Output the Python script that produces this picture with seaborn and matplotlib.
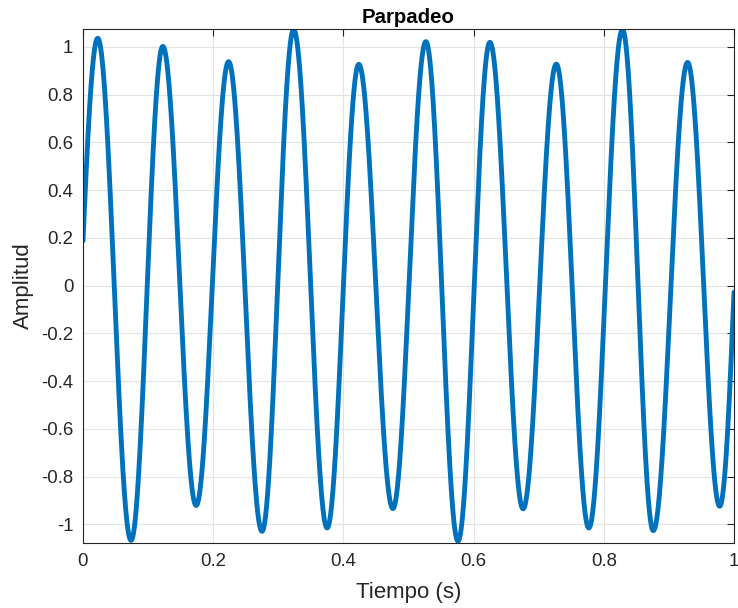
import numpy as np
import pandas as pd
import matplotlib
matplotlib.use("Agg")
import matplotlib.pyplot as plt
import seaborn as sns

# Turning points of the flicker signal (time in s, amplitude)
peak_times = [0.0226, 0.1226, 0.2236, 0.3236, 0.4236, 0.5267, 0.6250, 0.7270, 0.8287, 0.9287, 1.024]
peak_values = [1.036, 1.002, 0.938, 1.072, 0.927, 1.022, 1.019, 0.928, 1.072, 0.935, 1.000]
trough_times = [-0.028, 0.0738, 0.1738, 0.2750, 0.3750, 0.4760, 0.5760, 0.6760, 0.7770, 0.8760, 0.9780]
trough_values = [-1.000, -1.067, -0.921, -1.029, -1.015, -0.934, -1.070, -0.935, -1.015, -1.026, -0.924]

x_ticks = [0, 0.2, 0.4, 0.6, 0.8, 1]
y_ticks = [-1, -0.8, -0.6, -0.4, -0.2, 0, 0.2, 0.4, 0.6, 0.8, 1]

# Alternate troughs and peaks into one ordered list of turning points
knot_t = []
knot_v = []
for tt, tv, pt, pv in zip(trough_times, trough_values, peak_times, peak_values):
    knot_t += [tt, pt]
    knot_v += [tv, pv]
knot_t = np.array(knot_t)
knot_v = np.array(knot_v)

# Half-cosine swing between consecutive turning points
t = np.linspace(0, 1, 4001)
idx = np.clip(np.searchsorted(knot_t, t, side="right") - 1, 0, len(knot_t) - 2)
t0, t1 = knot_t[idx], knot_t[idx + 1]
v0, v1 = knot_v[idx], knot_v[idx + 1]
frac = (t - t0) / (t1 - t0)
amp = v0 + (v1 - v0) * (1 - np.cos(np.pi * frac)) / 2

df = pd.DataFrame({"Tiempo (s)": t, "Amplitud": amp})

sns.set_theme(style="white")
plt.rcParams["font.family"] = ["Liberation Sans", "DejaVu Sans"]

fig = plt.figure(figsize=(7.38, 6.08), dpi=100)
ax = fig.add_axes([83 / 738, 1 - 543 / 608, (734 - 83) / 738, (543 - 29) / 608])

sns.lineplot(data=df, x="Tiempo (s)", y="Amplitud", ax=ax, color="#0072BD",
             linewidth=3.5, estimator=None, sort=False)

ax.set_xlim(0, 1)
ax.set_ylim(-1.078, 1.075)
ax.set_xticks(x_ticks)
ax.set_xticklabels([f"{v:g}" for v in x_ticks])
ax.set_yticks(y_ticks)
ax.set_yticklabels([f"{v:g}" for v in y_ticks])

axis_col = "#262626"
ax.grid(True, color="#e3e3e3", linewidth=0.8)
ax.set_axisbelow(True)
for side in ["left", "right", "top", "bottom"]:
    ax.spines[side].set_visible(True)
    ax.spines[side].set_color(axis_col)
    ax.spines[side].set_linewidth(0.8)
ax.tick_params(axis="both", which="both", direction="in", length=5, width=0.8,
               colors=axis_col, labelsize=13.4, top=True, right=True,
               labeltop=False, labelright=False, pad=7)

ax.set_xlabel("Tiempo (s)", fontsize=16, color=axis_col, labelpad=9)
ax.set_ylabel("Amplitud", fontsize=16, color=axis_col, labelpad=5)
ax.set_title("Parpadeo", fontsize=14.7, fontweight="bold", color="black", pad=4)

fig.savefig("out.png", dpi=100)
